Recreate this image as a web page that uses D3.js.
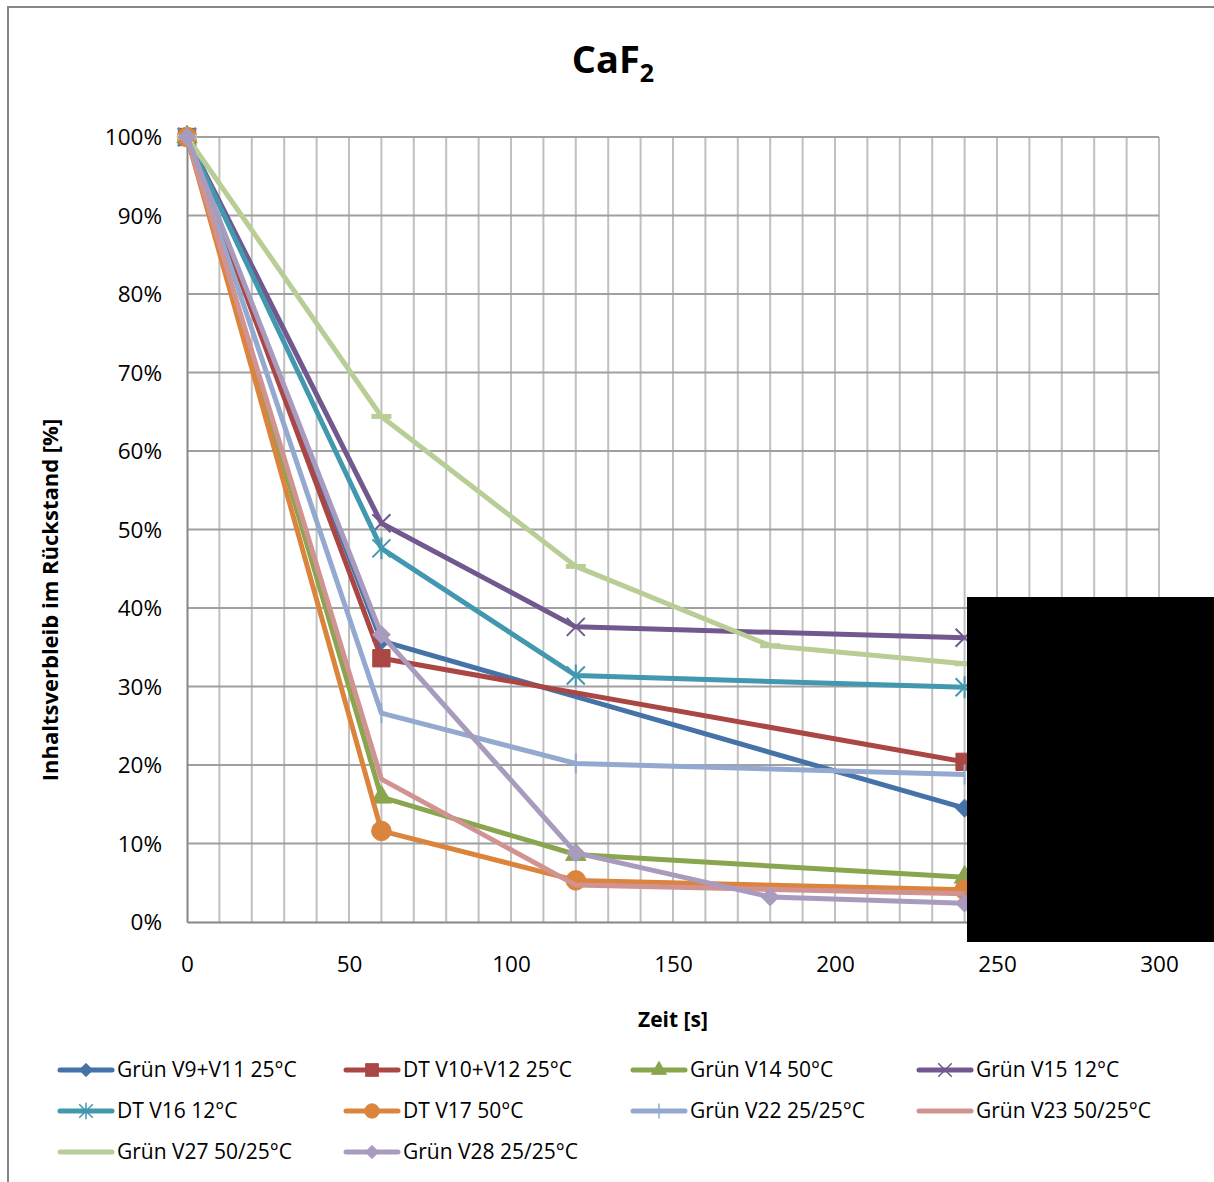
<!DOCTYPE html>
<html>
<head>
<meta charset="utf-8">
<title>CaF2</title>
<script src="https://d3js.org/d3.v7.min.js"></script>
<style>
  body { margin: 0; background: #fff; }
  svg { font-family: "Open Sans", "Noto Sans", sans-serif; }
</style>
</head>
<body>
<svg id="chart" width="1214" height="1182"></svg>
<script>
// chart data (time in s, remaining content in %)
var seriesNames = ["Grün V9+V11 25°C", "DT V10+V12 25°C", "Grün V14 50°C", "Grün V15 12°C",
                   "DT V16 12°C", "DT V17 50°C", "Grün V22 25/25°C", "Grün V23 50/25°C",
                   "Grün V27 50/25°C", "Grün V28 25/25°C"];
var seriesColors = ["#4572A7", "#AA4643", "#89A54E", "#71588F", "#4198AF",
                    "#DB843D", "#93A9CF", "#D19392", "#B9CD96", "#A99BBD"];
var seriesMarkers = ["diamond", "square", "triangle", "cross", "star",
                     "circle", "plus", "none", "dash", "diamond"];

var times_V9 = [0, 60, 240];
var values_V9 = [100, 35.8, 14.5];
var times_V10 = [0, 60, 240];
var values_V10 = [100, 33.6, 20.4];
var times_V14 = [0, 60, 120, 240];
var values_V14 = [100, 15.9, 8.6, 5.7];
var times_V15 = [0, 60, 120, 240];
var values_V15 = [100, 50.8, 37.6, 36.2];
var times_V16 = [0, 60, 120, 240];
var values_V16 = [100, 47.6, 31.4, 29.9];
var times_V17 = [0, 60, 120, 240];
var values_V17 = [100, 11.6, 5.3, 4.1];
var times_V22 = [0, 60, 120, 240];
var values_V22 = [100, 26.6, 20.2, 18.8];
var times_V23 = [0, 60, 120, 240];
var values_V23 = [100, 18.2, 4.7, 3.6];
var times_V27 = [0, 60, 120, 180, 240];
var values_V27 = [100, 64.4, 45.3, 35.2, 32.9];
var times_V28 = [0, 60, 120, 180, 240];
var values_V28 = [100, 36.6, 8.8, 3.2, 2.4];

var allTimes = [times_V9, times_V10, times_V14, times_V15, times_V16,
                times_V17, times_V22, times_V23, times_V27, times_V28];
var allValues = [values_V9, values_V10, values_V14, values_V15, values_V16,
                 values_V17, values_V22, values_V23, values_V27, values_V28];

var xTicks = [0, 50, 100, 150, 200, 250, 300];
var yTicks = [0, 10, 20, 30, 40, 50, 60, 70, 80, 90, 100];

var svg = d3.select("#chart");

// outer chart border (left and top are visible)
svg.append("path")
  .attr("d", "M8,1182 V7 H1214")
  .attr("fill", "none")
  .attr("stroke", "#878787")
  .attr("stroke-width", 2);

var plotLeft = 187, plotRight = 1159, plotTop = 137, plotBottom = 922;
var sx = d3.scaleLinear().domain([0, 300]).range([plotLeft, plotRight]);
var sy = d3.scaleLinear().domain([0, 100]).range([plotBottom, plotTop]);

// grid: vertical every 10 s, horizontal every 10 %
var g = svg.append("g");
g.selectAll("line.vg")
  .data(d3.range(10, 301, 10))
  .enter().append("line")
  .attr("x1", function(d) { return sx(d); })
  .attr("x2", function(d) { return sx(d); })
  .attr("y1", plotTop).attr("y2", plotBottom)
  .attr("stroke", "#C0C0C0").attr("stroke-width", 2);
g.selectAll("line.hg")
  .data(yTicks.slice(1))
  .enter().append("line")
  .attr("x1", plotLeft).attr("x2", plotRight)
  .attr("y1", function(d) { return sy(d); })
  .attr("y2", function(d) { return sy(d); })
  .attr("stroke", "#A0A0A0").attr("stroke-width", 2);

// axes
var xAxis = svg.append("g")
  .attr("transform", "translate(0," + plotBottom + ")")
  .call(d3.axisBottom(sx).tickValues(xTicks).tickSize(0).tickPadding(34));
var yAxis = svg.append("g")
  .attr("transform", "translate(" + plotLeft + ",0)")
  .call(d3.axisLeft(sy).tickValues(yTicks).tickSize(0).tickPadding(25)
    .tickFormat(function(d) { return d + "%"; }));
[xAxis, yAxis].forEach(function(a) {
  a.select(".domain").attr("stroke", "#868686").attr("stroke-width", 2);
  a.selectAll("text").attr("font-size", 22.5).attr("fill", "#000")
    .attr("font-family", "Open Sans, sans-serif");
});
yAxis.selectAll("text").attr("dy", "0.35em");

// markers
function markerPath(type) {
  if (type === "diamond") return "M0,-9L9,0L0,9L-9,0Z";
  if (type === "square") return d3.symbol(d3.symbolSquare, 300)();
  if (type === "triangle") return d3.symbol(d3.symbolTriangle, 180)();
  if (type === "circle") return d3.symbol(d3.symbolCircle, 300)();
  if (type === "cross") return "M-9,-9L9,9M-9,9L9,-9";
  if (type === "star") return "M-9,-9L9,9M-9,9L9,-9M0,-11V11";
  if (type === "plus") return "M0,-10V10";
  if (type === "dash") return "M-10,0H10";
  return null;
}
function drawMarker(sel, type, color, scale) {
  var p = markerPath(type);
  if (!p) return;
  var filled = ["diamond", "square", "triangle", "circle"].indexOf(type) >= 0;
  sel.append("path")
    .attr("d", p)
    .attr("transform", "scale(" + (scale || 1) + ")")
    .attr("fill", filled ? color : "none")
    .attr("stroke", color)
    .attr("stroke-width", filled ? 1 : (type === "dash" ? 5 : 2));
}

var line = d3.line()
  .x(function(d) { return sx(d[0]); })
  .y(function(d) { return sy(d[1]); });

seriesNames.forEach(function(name, i) {
  var pts = allTimes[i].map(function(t, k) { return [t, allValues[i][k]]; });
  var sg = svg.append("g");
  sg.append("path")
    .attr("d", line(pts))
    .attr("fill", "none")
    .attr("stroke", seriesColors[i])
    .attr("stroke-width", 5)
    .attr("stroke-linejoin", "round");
  pts.forEach(function(p) {
    var m = sg.append("g").attr("transform", "translate(" + sx(p[0]) + "," + sy(p[1]) + ")");
    drawMarker(m, seriesMarkers[i], seriesColors[i]);
  });
});

// titles
var title = svg.append("text")
  .attr("x", 613).attr("y", 73)
  .attr("text-anchor", "middle")
  .attr("font-size", 38).attr("font-weight", "bold");
title.append("tspan").text("CaF");
title.append("tspan").attr("font-size", 25).attr("dy", 9).text("2");

svg.append("text")
  .attr("x", 673).attr("y", 1027)
  .attr("text-anchor", "middle")
  .attr("font-size", 21).attr("font-weight", "bold")
  .text("Zeit [s]");

svg.append("text")
  .attr("transform", "translate(58,600) rotate(-90)")
  .attr("text-anchor", "middle")
  .attr("font-size", 22).attr("font-weight", "bold")
  .text("Inhaltsverbleib im Rückstand [%]");

// legend: 4 columns, 3 rows
var legendX = [58, 344, 631, 917];
var legendY = [1070, 1111, 1152];
seriesNames.forEach(function(name, i) {
  var lx = legendX[i % 4], ly = legendY[Math.floor(i / 4)];
  var lg = svg.append("g").attr("transform", "translate(" + lx + "," + ly + ")");
  lg.append("line")
    .attr("x1", 2).attr("x2", 54)
    .attr("stroke", seriesColors[i]).attr("stroke-width", 5)
    .attr("stroke-linecap", "round");
  var m = lg.append("g").attr("transform", "translate(28,0)");
  var t = seriesMarkers[i] === "dash" ? "none" : seriesMarkers[i];
  drawMarker(m, t, seriesColors[i], 0.75);
  lg.append("text")
    .attr("x", 59).attr("y", 0).attr("dy", "0.35em")
    .attr("font-size", 21)
    .text(name);
});

// black box covering the right lower part in the source image
svg.append("rect")
  .attr("x", 967).attr("y", 597)
  .attr("width", 247).attr("height", 345)
  .attr("fill", "#000");
</script>
</body>
</html>
